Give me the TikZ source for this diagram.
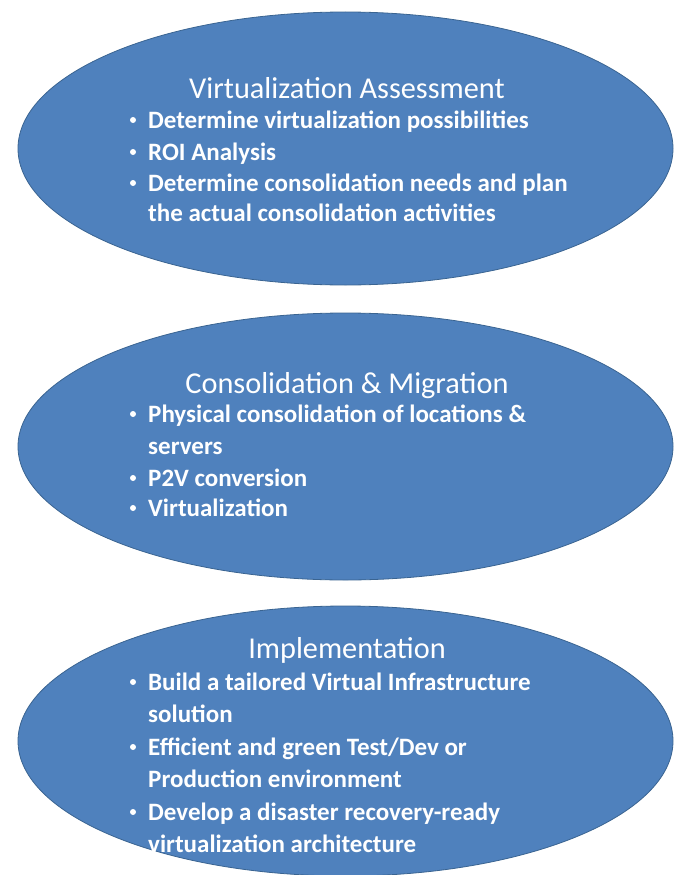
\documentclass[tikz,border=0pt]{standalone}
\usepackage{fontspec}
\setmainfont{Carlito}
\usetikzlibrary{shapes.geometric}
\definecolor{ellfill}{HTML}{4F81BD}
\definecolor{elledge}{HTML}{3A6491}
\tikzset{
  oval/.style={ellipse, fill=ellfill, draw=elledge, line width=0.8pt, inner sep=0pt},
  ttl/.style={text=white, font=\fontsize{30.3}{34}\selectfont, anchor=base, inner sep=0pt},
  itm/.style={text=white, font=\bfseries\fontsize{25}{29}\selectfont, anchor=base west, inner sep=0pt},
  blt/.style={circle, fill=white, inner sep=0pt, minimum size=6pt},
}
\begin{document}
\begin{tikzpicture}[x=1pt,y=-1pt]
\useasboundingbox (0,0) rectangle (673,875);
% ellipses
\node[oval, minimum width=655, minimum height=273] (e1) at (345.5,148.5) {};
\node[oval, minimum width=655, minimum height=267] (e2) at (345.5,446.5) {};
\node[oval, minimum width=655, minimum height=270] (e3) at (345.5,741) {};
% ellipse 1
\node[ttl] (t1) at (347,99) {Virtualization Assessment};
\node[blt] (b11) at (133,120) {};
\node[itm] (l11) at (148,128) {Determine virtualization possibilities};
\node[blt] (b12) at (133,152) {};
\node[itm] (l12) at (148,160) {ROI Analysis};
\node[blt] (b13) at (133,183) {};
\node[itm] (l13) at (148,191) {Determine consolidation needs and plan};
\node[itm] (l14) at (148,221) {the actual consolidation activities};
% ellipse 2
\node[ttl] (t2) at (347,393) {Consolidation \& Migration};
\node[blt] (b21) at (133,414) {};
\node[itm] (l21) at (148,422) {Physical consolidation of locations \&};
\node[itm] (l22) at (148,454) {servers};
\node[blt] (b23) at (133,478) {};
\node[itm] (l23) at (148,486) {P2V conversion};
\node[blt] (b24) at (133,508) {};
\node[itm] (l24) at (148,516) {Virtualization};
% ellipse 3
\node[ttl] (t3) at (347,658) {Implementation};
\node[blt] (b31) at (133,682) {};
\node[itm] (l31) at (148,690) {Build a tailored Virtual Infrastructure};
\node[itm] (l32) at (148,722) {solution};
\node[blt] (b33) at (133,747) {};
\node[itm] (l33) at (148,755) {Efficient and green Test/Dev or};
\node[itm] (l34) at (148,787) {Production environment};
\node[blt] (b35) at (133,812) {};
\node[itm] (l35) at (148,820) {Develop a disaster recovery-ready};
\node[itm] (l36) at (148,852) {virtualization architecture};
\end{tikzpicture}
\end{document}
